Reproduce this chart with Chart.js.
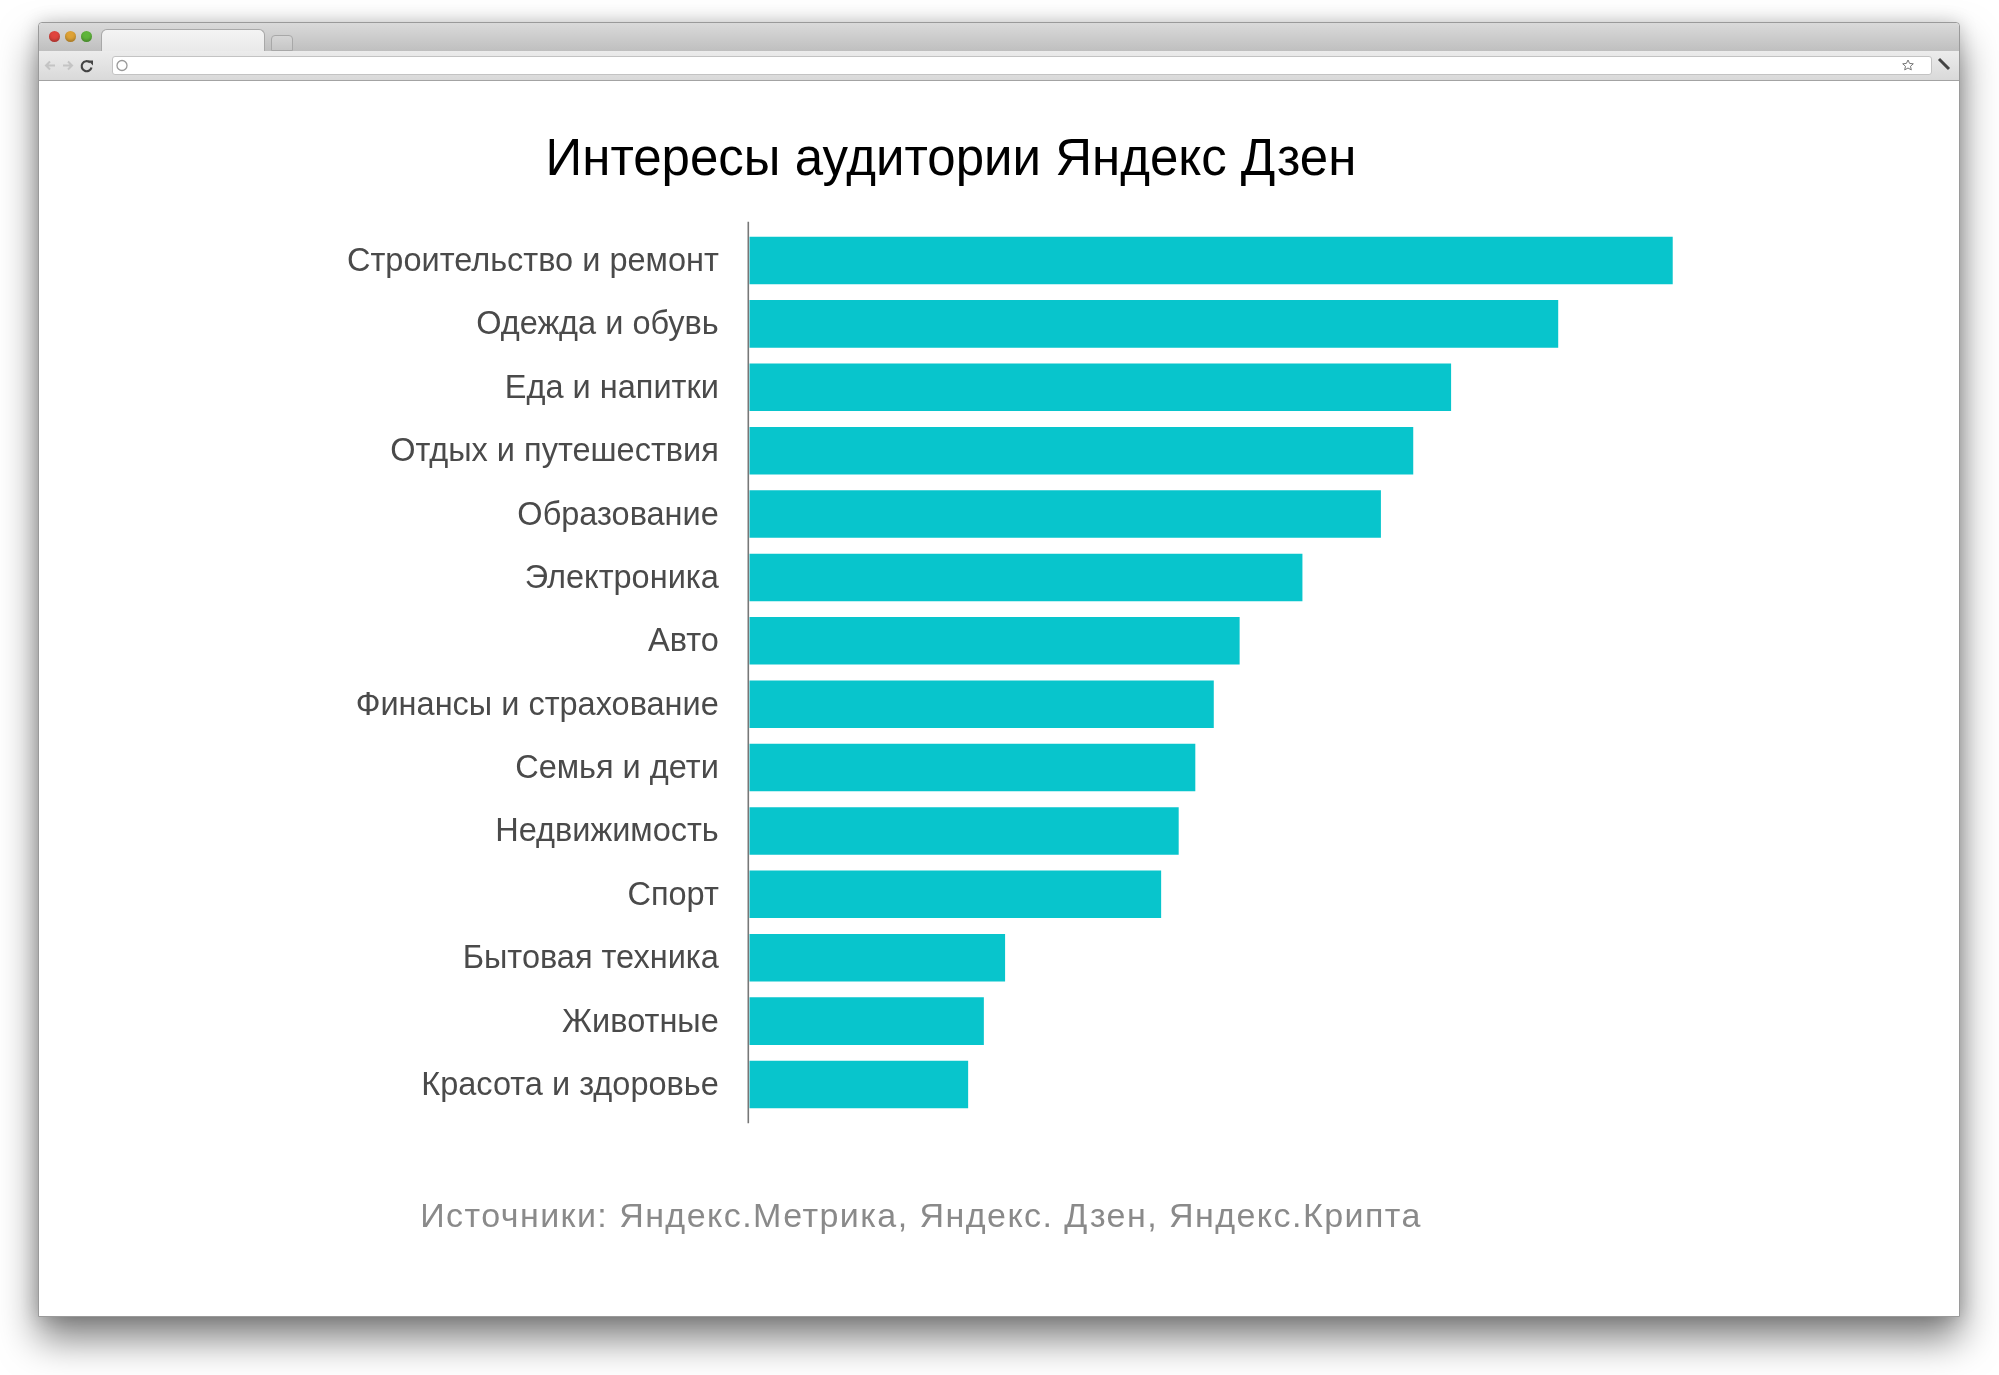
<!DOCTYPE html>
<html lang="ru">
<head>
    <meta charset="UTF-8">
    <title>Интересы аудитории Яндекс Дзен</title>
    <script src="https://cdn.jsdelivr.net/npm/chart.js"></script>
    <style>
        html, body {
            margin: 0;
            padding: 0;
            width: 1999px;
            height: 1375px;
            background: #fff;
            overflow: hidden;
            font-family: 'Liberation Sans', Arial, sans-serif;
        }

        .window {
            position: absolute;
            left: 38px;
            top: 22px;
            width: 1922px;
            height: 1295px;
            background: #fff;
            border: 1px solid #9a9a9a;
            box-sizing: border-box;
            border-radius: 4px 4px 0 0;
            box-shadow: 0 22px 38px rgba(0, 0, 0, 0.5), 0 0 18px rgba(0, 0, 0, 0.18);
        }

        .tabbar {
            position: absolute;
            left: 0;
            top: 0;
            right: 0;
            height: 28px;
            background: linear-gradient(#dadada, #bfbfbf);
            border-radius: 4px 4px 0 0;
        }

        .tab {
            position: absolute;
            left: 62px;
            top: 6px;
            width: 164px;
            height: 22px;
            background: linear-gradient(#f4f4f4, #e9e9e9);
            border: 1px solid #a8a8a8;
            border-bottom: none;
            border-radius: 6px 6px 0 0;
            box-sizing: border-box;
        }

        .newtab {
            position: absolute;
            left: 232px;
            top: 12px;
            width: 20px;
            height: 14px;
            background: linear-gradient(#d6d6d6, #c6c6c6);
            border: 1px solid #a8a8a8;
            border-radius: 4px 4px 0 0;
        }

        .light {
            position: absolute;
            top: 8px;
            width: 11px;
            height: 11px;
            border-radius: 50%;
            box-shadow: inset 0 -2px 3px rgba(0, 0, 0, 0.25);
        }

        .toolbar {
            position: absolute;
            left: 0;
            top: 28px;
            right: 0;
            height: 29px;
            background: linear-gradient(#ececec, #d9d9d9);
            border-bottom: 1px solid #a3a3a3;
        }

        .address {
            position: absolute;
            left: 73px;
            top: 5px;
            width: 1818px;
            height: 17px;
            background: #fff;
            border: 1px solid #c3c3c3;
            border-radius: 3px;
        }

        #title {
            position: absolute;
            left: 0;
            top: 132px;
            width: 1902px;
            text-align: center;
            font-size: 51px;
            line-height: 51px;
            color: #000;
            white-space: nowrap;
        }

        #source {
            position: absolute;
            left: 0;
            top: 1198px;
            width: 1842px;
            text-align: center;
            font-size: 34px;
            line-height: 34px;
            letter-spacing: 1.45px;
            color: #8a8a8a;
            white-space: nowrap;
        }

        #chart {
            position: absolute;
            left: 0;
            top: 0;
        }
    </style>
</head>
<body>
    <div class="window">
        <div class="tabbar">
            <div class="light" style="left: 10px; background: #e0443e;"></div>
            <div class="light" style="left: 26px; background: #dea236;"></div>
            <div class="light" style="left: 42px; background: #5fb53b;"></div>
            <div class="tab"></div>
            <div class="newtab"></div>
        </div>
        <div class="toolbar">
            <svg width="60" height="29" style="position:absolute;left:2px;top:0">
                <path d="M14 14.5h-9M9 10.5l-4 4 4 4" stroke="#c4c4c4" stroke-width="2" fill="none"/>
                <path d="M22 14.5h9M27 10.5l4 4-4 4" stroke="#c4c4c4" stroke-width="2" fill="none"/>
                <path d="M49 11.5a5 5 0 1 0 1.5 5" stroke="#444" stroke-width="2.2" fill="none"/>
                <path d="M47 9.5h5v5z" fill="#444"/>
            </svg>
            <div class="address">
                <svg width="1818" height="17" style="position:absolute;left:0;top:0">
                    <circle cx="9" cy="8.5" r="5" stroke="#999" stroke-width="1.3" fill="none"/>
                    <path d="M1795 3l1.6 3.4 3.7.4-2.8 2.5.8 3.6-3.3-1.9-3.3 1.9.8-3.6-2.8-2.5 3.7-.4z" stroke="#777" stroke-width="1" fill="none"/>
                </svg>
            </div>
            <svg width="20" height="29" style="position:absolute;right:4px;top:0">
                <path d="M4 8l4 4M8 12l6 6" stroke="#444" stroke-width="3" fill="none"/>
            </svg>
        </div>
    </div>

    <canvas id="chart" width="1999" height="1375"></canvas>

    <div id="title">Интересы аудитории Яндекс Дзен</div>
    <div id="source">Источники: Яндекс.Метрика, Яндекс. Дзен, Яндекс.Крипта</div>

    <script>
        // категории интересов, сверху вниз
        var categories = [
            'Строительство и ремонт',
            'Одежда и обувь',
            'Еда и напитки',
            'Отдых и путешествия',
            'Образование',
            'Электроника',
            'Авто',
            'Финансы и страхование',
            'Семья и дети',
            'Недвижимость',
            'Спорт',
            'Бытовая техника',
            'Животные',
            'Красота и здоровье'
        ];

        // относительный интерес (самая длинная полоса = 100)
        var interest = [100, 87.6, 76.0, 71.9, 68.4, 59.9, 53.1, 50.3, 48.3, 46.5, 44.6, 27.7, 25.4, 23.7];

        var xMin = 0;
        var xMax = 120;

        // вертикальная ось чуть длиннее области полос
        var axisLine = {
            id: 'axisLine',
            afterDatasetsDraw: function (chart) {
                var ctx = chart.ctx;
                var y = chart.scales.y;
                ctx.save();
                ctx.strokeStyle = '#777';
                ctx.lineWidth = 1.6;
                ctx.beginPath();
                ctx.moveTo(y.right - 1, y.top - 7);
                ctx.lineTo(y.right - 1, y.bottom + 7);
                ctx.stroke();
                ctx.restore();
            }
        };

        var ctx = document.getElementById('chart').getContext('2d');
        var chart = new Chart(ctx, {
            type: 'bar',
            data: {
                labels: categories,
                datasets: [{
                    data: interest,
                    backgroundColor: '#08c5cc',
                    borderWidth: 0,
                    barPercentage: 0.75,
                    categoryPercentage: 1.0
                }]
            },
            options: {
                indexAxis: 'y',
                responsive: false,
                animation: false,
                layout: {
                    padding: { left: 0, top: 228.8, right: 141.6, bottom: 258.8 }
                },
                plugins: {
                    legend: { display: false },
                    tooltip: { enabled: false }
                },
                scales: {
                    x: {
                        display: false,
                        min: xMin,
                        max: xMax
                    },
                    y: {
                        grid: { display: false, drawTicks: false },
                        border: { display: false },
                        ticks: {
                            padding: 30.5,
                            labelOffset: 1.5,
                            color: '#4a4a4a',
                            font: { family: "'Liberation Sans', Arial, sans-serif", size: 32.5 }
                        },
                        afterFit: function (scale) {
                            scale.width = 749.3;
                        }
                    }
                }
            },
            plugins: [axisLine]
        });
    </script>
</body>
</html>
